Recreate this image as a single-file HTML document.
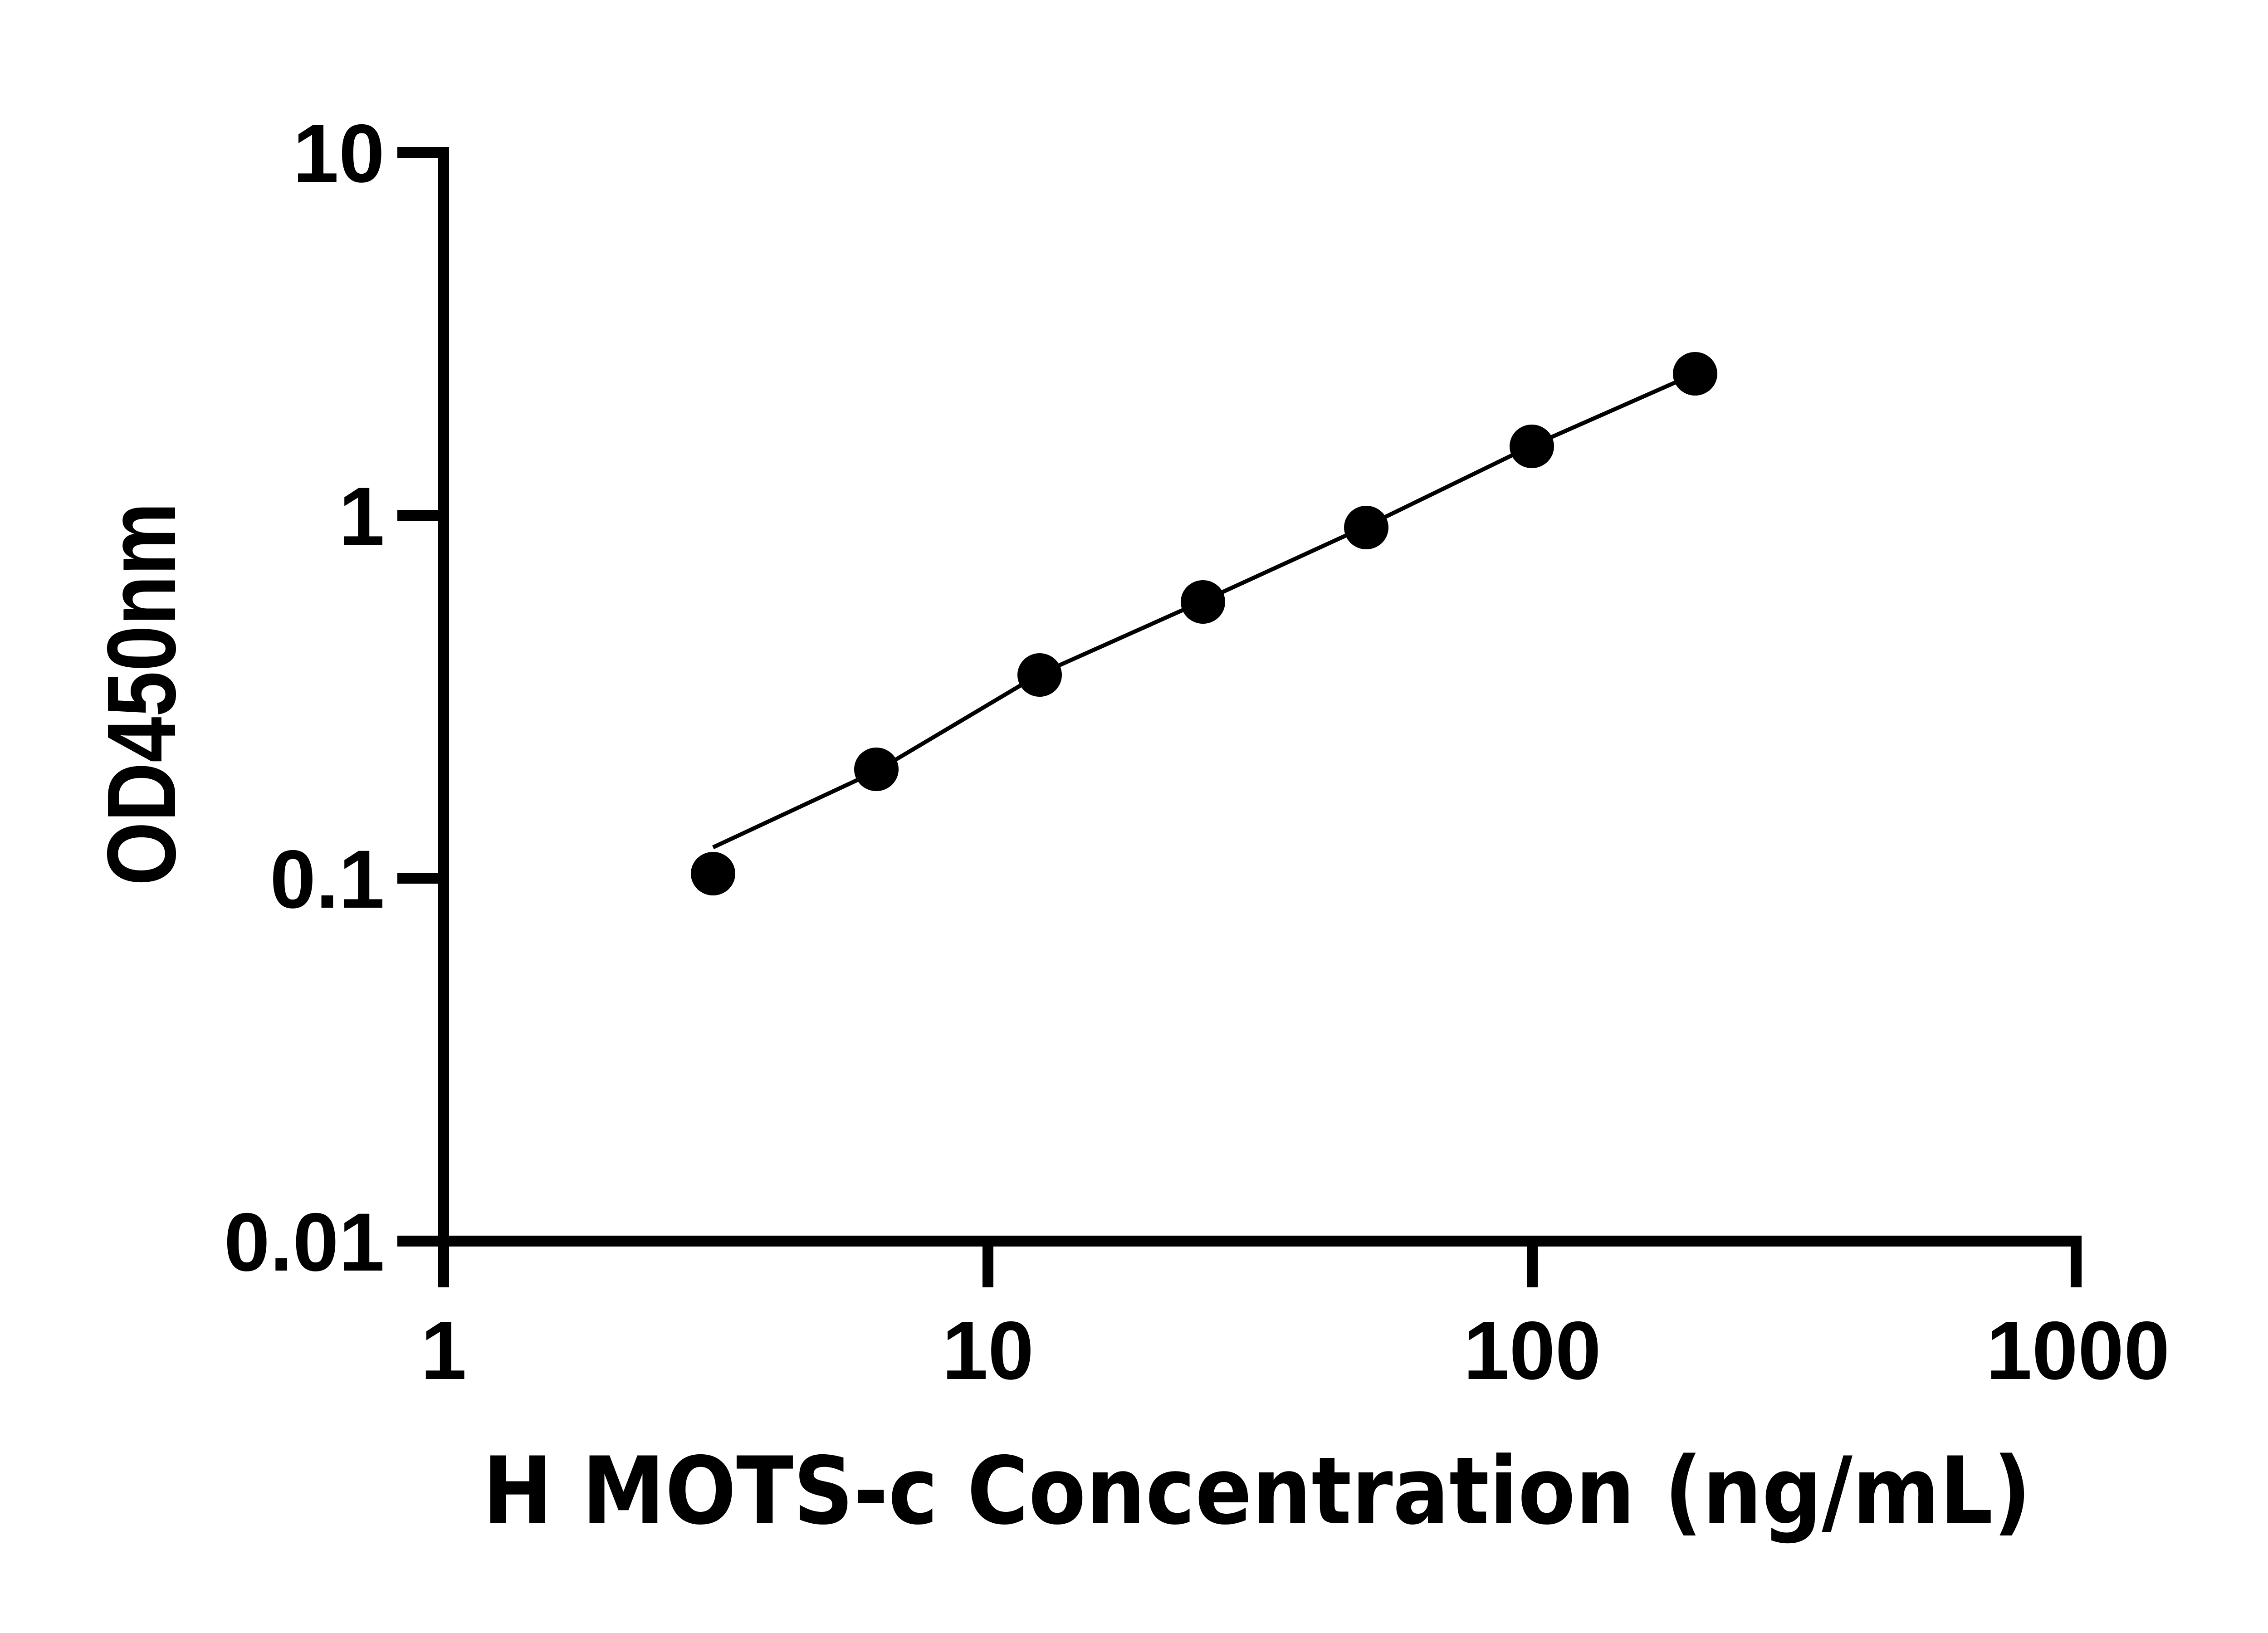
<!DOCTYPE html>
<html><head><meta charset="utf-8"><style>html,body{margin:0;padding:0;background:#fff}svg{display:block}</style></head>
<body>
<svg width="5130" height="3600" viewBox="0 0 5130 3600" xmlns="http://www.w3.org/2000/svg">
<rect width="5130" height="3600" fill="#fff"/>
<g fill="#000">
<!-- y axis -->
<rect x="966" y="324" width="24" height="2514"/>
<!-- x axis -->
<rect x="876" y="2724" width="3713" height="24"/>
<!-- y ticks -->
<rect x="876" y="324" width="100" height="24"/>
<rect x="876" y="1124" width="100" height="24"/>
<rect x="876" y="1924" width="100" height="24"/>
<!-- x ticks -->
<rect x="2166" y="2736" width="24" height="102"/>
<rect x="3366" y="2736" width="24" height="102"/>
<rect x="4565" y="2736" width="24" height="102"/>
</g>
<g font-family="Liberation Sans, Arial, sans-serif" font-weight="bold" font-size="182" fill="#000">
<text x="848" y="401" text-anchor="end">10</text>
<text x="848" y="1201" text-anchor="end">1</text>
<text x="848" y="2001" text-anchor="end">0.1</text>
<text x="848" y="2801" text-anchor="end">0.01</text>
<text x="978" y="3040" text-anchor="middle">1</text>
<text x="2178" y="3040" text-anchor="middle">10</text>
<text x="3378" y="3040" text-anchor="middle">100</text>
<text x="4581" y="3040" text-anchor="middle">1000</text>
</g>
<text transform="translate(386,1530) rotate(-90)" text-anchor="middle" font-family="Liberation Sans, Arial, sans-serif" font-weight="bold" font-size="215" textLength="845" lengthAdjust="spacingAndGlyphs">OD450nm</text>
<text x="1064" y="3358" font-family="DejaVu Sans, sans-serif" font-weight="bold" font-size="205" textLength="3414" lengthAdjust="spacingAndGlyphs">H MOTS-c Concentration (ng/mL)</text>
<polyline points="1572,1868 1932,1700 2292,1486 2652,1325 3012,1160 3372,985 3732,826" fill="none" stroke="#000" stroke-width="9"/>
<g fill="#000">
<ellipse cx="1572" cy="1926" rx="49" ry="48"/>
<ellipse cx="1932" cy="1696" rx="49" ry="48"/>
<ellipse cx="2292" cy="1488" rx="49" ry="48"/>
<ellipse cx="2652" cy="1327" rx="49" ry="48"/>
<ellipse cx="3012" cy="1163" rx="49" ry="48"/>
<ellipse cx="3377" cy="984" rx="49" ry="48"/>
<ellipse cx="3737" cy="824" rx="49" ry="48"/>
</g>
</svg>
</body></html>
